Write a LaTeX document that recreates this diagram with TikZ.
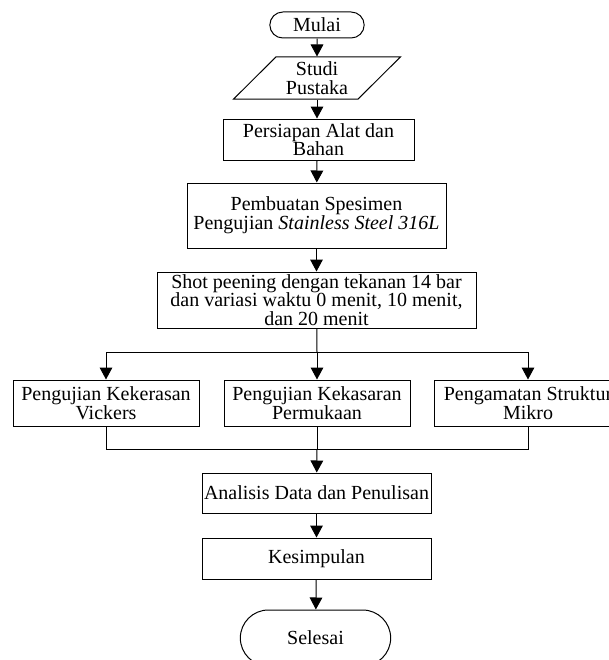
\documentclass[tikz,border=0pt]{standalone}
\usepackage{fontspec}
\setmainfont{Liberation Serif}
\usetikzlibrary{arrows.meta,shapes.geometric,shapes.misc}
\tikzset{
  txt/.style={font=\fontsize{15}{14}\selectfont},
  blk/.style={draw, rectangle, align=center, txt, inner sep=1pt, line width=0.75pt},
  term/.style={draw, rounded rectangle, align=center, txt, inner sep=1pt, line width=0.75pt},
  io/.style={draw, trapezium, trapezium left angle=40, trapezium right angle=140,
             trapezium stretches body, align=center, txt, inner sep=1pt, line width=0.75pt},
  flow/.style={-{Triangle[length=9pt,width=9.5pt]}, line width=0.75pt},
  wire/.style={line width=0.75pt},
}

\begin{document}
\begin{tikzpicture}[x=0.75pt,y=-0.75pt]
    \useasboundingbox (0,0) rectangle (609,660);
    \node[term, minimum width=72.75pt, minimum height=19.5pt] (mulai) at (317,25) {Mulai};
    \node[io, minimum width=125pt, minimum height=31.5pt] (studi) at (317,78) {Studi\\Pustaka};
    \node[blk, minimum width=143.25pt, minimum height=30.75pt] (alat) at (318.5,139.5) {Persiapan Alat dan\\Bahan};
    \node[blk, minimum width=194.25pt, minimum height=48.75pt] (spesimen) at (316.5,215.5)
      {Pembuatan Spesimen\\Pengujian \textit{Stainless Steel 316L}};
    \node[blk, minimum width=239.25pt, minimum height=42pt] (shot) at (316.5,300)
      {Shot peening dengan tekanan 14 bar\\dan variasi waktu 0 menit, 10 menit,\\dan 20 menit};
    \node[blk, minimum width=139.5pt, minimum height=34.5pt] (vickers) at (106,403) {Pengujian Kekerasan\\Vickers};
    \node[blk, minimum width=139.5pt, minimum height=34.5pt] (kasar) at (317,403) {Pengujian Kekasaran\\Permukaan};
    \node[blk, minimum width=141pt, minimum height=34.5pt] (mikro) at (528,403) {Pengamatan Struktur\\Mikro};
    \node[blk, minimum width=171.75pt, minimum height=30pt] (analisis) at (316.5,493) {Analisis Data dan Penulisan};
    \node[blk, minimum width=171.75pt, minimum height=30.75pt] (simpul) at (316.5,558.5) {Kesimpulan};
    \node[term, minimum width=114.75pt, minimum height=42pt] (selesai) at (315.5,638) {Selesai};
    \coordinate (fork) at (317,352);
    \coordinate (join) at (317,449);
    % alur utama
    \draw[flow] (mulai) -- (studi);
    \draw[flow] (studi.south -| mulai) -- (alat.north -| mulai);
    \draw[flow] (alat.south -| mulai) -- (spesimen);
    \draw[flow] (spesimen) -- (shot);
    % percabangan pengujian
    \draw[wire] (shot) -- (fork);
    \draw[flow] (fork) -| (vickers);
    \draw[flow] (fork) -- (kasar);
    \draw[flow] (fork) -| (mikro);
    \draw[wire] (vickers) |- (join);
    \draw[wire] (mikro) |- (join);
    \draw[wire] (kasar) -- (join);
    \draw[flow] (join) -- (analisis);
    \draw[flow] (analisis) -- (simpul);
    \draw[flow] (simpul) -- (selesai);
  \end{tikzpicture}
\end{document}
